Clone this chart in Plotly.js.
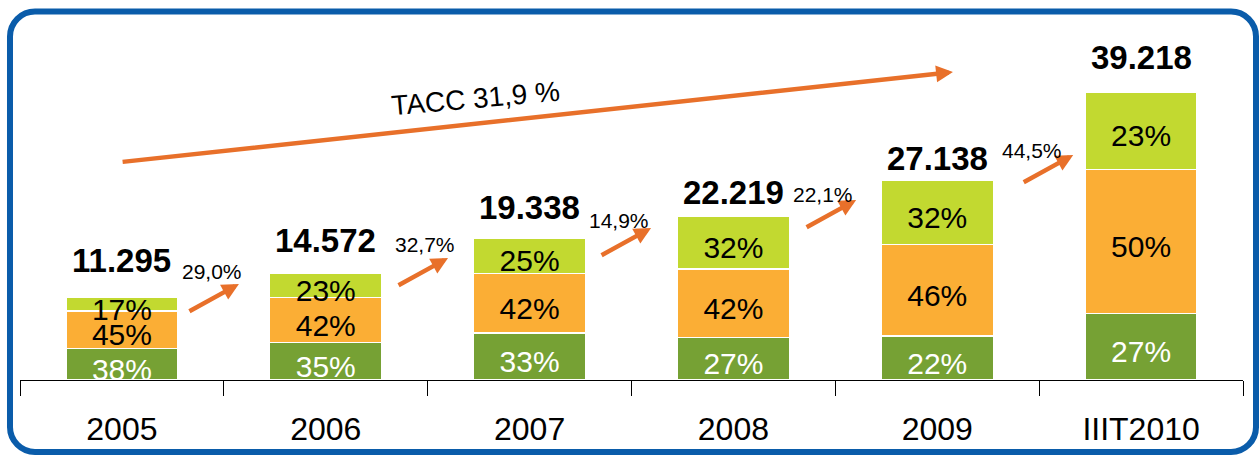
<!DOCTYPE html>
<html>
<head>
<meta charset="utf-8">
<script src="https://cdn.plot.ly/plotly-3.0.1.min.js"></script>
<style>
  html, body { margin: 0; padding: 0; background: #fff; }
  #chart { width: 1259px; height: 455px; }
</style>
</head>
<body>
<div id="chart"></div>
<script>
// categories and values
var years = ['2005', '2006', '2007', '2008', '2009', 'IIIT2010'];
var totals = [11295, 14572, 19338, 22219, 27138, 39218];
var totalText = ['11.295', '14.572', '19.338', '22.219', '27.138', '39.218'];

// segment shares (as drawn) and the labels printed on them
var greenShare = [38, 35, 33, 26, 22, 23];
var orangeShare = [45, 42, 42, 42, 46, 50];
var limeShare = [17, 23, 25, 32, 32, 27];
var greenText = ['38%', '35%', '33%', '27%', '22%', '27%'];
var orangeText = ['45%', '42%', '42%', '42%', '46%', '50%'];
var limeText = ['17%', '23%', '25%', '32%', '32%', '23%'];

// year on year growth
var growthText = ['29,0%', '32,7%', '14,9%', '22,1%', '44,5%'];
var cagrText = 'TACC 31,9 %';

// annotation placement (data units)
var growthX = [0.442, 1.487, 2.439, 3.440, 4.465];
var growthY = [14828, 18501, 21766, 25303, 31288];
var arrowX = [0.574, 1.600, 2.596, 3.602, 4.667];
var arrowY = [13060, 16596, 20677, 24486, 30608];
var totalGap = [24, 20, 18, 12, 10, 22];

var YMAX = 48980;
var PLOT_H = 360;
var unitsPerPx = YMAX / PLOT_H;

var colGreen = '#76A134';
var colOrange = '#FBAE35';
var colLime = '#C2D930';
var colArrow = '#E8702A';
var colBorder = '#0A5CAA';

function part(share, i) {
    var sum = greenShare[i] + orangeShare[i] + limeShare[i];
    return totals[i] * share[i] / sum;
}

var gVals = [], oVals = [], lVals = [];
for (var i = 0; i < years.length; i++) {
    gVals.push(part(greenShare, i));
    oVals.push(part(orangeShare, i));
    lVals.push(part(limeShare, i));
}

function barTrace(vals, color) {
    return {
        type: 'bar',
        x: years,
        y: vals,
        marker: { color: color, line: { color: '#ffffff', width: 1.5 } },
        hoverinfo: 'skip'
    };
}

// label y: centre of each segment, dropped a little like the original
var drop = 8 * unitsPerPx;
function labelTrace(bases, vals, texts, color) {
    var ys = [];
    for (var i = 0; i < vals.length; i++) {
        ys.push(bases[i] + vals[i] / 2 - drop);
    }
    return {
        type: 'scatter',
        mode: 'text',
        x: years,
        y: ys,
        text: texts,
        textposition: 'middle center',
        textfont: { size: 30, color: color },
        cliponaxis: true,
        hoverinfo: 'skip'
    };
}

var zeros = years.map(function () { return 0; });
var oBase = gVals.slice();
var lBase = gVals.map(function (v, i) { return v + oVals[i]; });

var data = [
    barTrace(gVals, colGreen),
    barTrace(oVals, colOrange),
    barTrace(lVals, colLime),
    labelTrace(zeros, gVals, greenText, '#ffffff'),
    labelTrace(oBase, oVals, orangeText, '#000000'),
    labelTrace(lBase, lVals, limeText, '#000000')
];

var annotations = [];
// totals above bars
for (var i = 0; i < years.length; i++) {
    annotations.push({
        x: i, y: totals[i], xref: 'x', yref: 'y',
        text: '<b>' + totalText[i] + '</b>',
        showarrow: false, yanchor: 'bottom',
        yshift: totalGap[i] - 8,
        font: { size: 33, color: '#000' }
    });
}
// growth arrows and labels
for (var j = 0; j < growthText.length; j++) {
    annotations.push({
        x: arrowX[j], y: arrowY[j], xref: 'x', yref: 'y',
        text: '', showarrow: true, ax: -51, ay: 28,
        arrowhead: 2, arrowsize: 0.75, arrowwidth: 4.5,
        arrowcolor: colArrow, standoff: 0
    });
    annotations.push({
        x: growthX[j], y: growthY[j], xref: 'x', yref: 'y',
        text: growthText[j], showarrow: false,
        font: { size: 21, color: '#000' }
    });
}
// long CAGR arrow
annotations.push({
    x: 4.077, y: 41899, xref: 'x', yref: 'y',
    ax: -0.004, ay: 29656, axref: 'x', ayref: 'y',
    text: '', showarrow: true, arrowhead: 2, arrowsize: 0.75,
    arrowwidth: 4.5, arrowcolor: colArrow, standoff: 0
});
annotations.push({
    x: 1.735, y: 38362, xref: 'x', yref: 'y',
    text: cagrText, showarrow: false, textangle: -5,
    font: { size: 28, color: '#000' }
});

// rounded frame, pixel coordinates turned into paper fractions
function px(p) { return (p - 20) / 1223; }
function py(p) { return (380 - p) / PLOT_H; }
function roundedRect(L, T, R, B, r) {
    var k = 0.5523 * r;
    var pts = [
        'M', [L + r, T], 'L', [R - r, T],
        'C', [R - r + k, T], [R, T + r - k], [R, T + r],
        'L', [R, B - r],
        'C', [R, B - r + k], [R - r + k, B], [R - r, B],
        'L', [L + r, B],
        'C', [L + r - k, B], [L, B - r + k], [L, B - r],
        'L', [L, T + r],
        'C', [L, T + r - k], [L + r - k, T], [L + r, T]
    ];
    var s = '';
    pts.forEach(function (p) {
        if (typeof p === 'string') s += p + ' ';
        else s += px(p[0]).toFixed(5) + ',' + py(p[1]).toFixed(5) + ' ';
    });
    return s + 'Z';
}

var layout = {
    width: 1259,
    height: 455,
    margin: { l: 20, r: 16, t: 20, b: 75 },
    paper_bgcolor: '#ffffff',
    plot_bgcolor: '#ffffff',
    barmode: 'stack',
    bargap: 0.45,
    showlegend: false,
    font: { family: 'Arial, "Liberation Sans", sans-serif', color: '#000' },
    xaxis: {
        type: 'category',
        range: [-0.5, 5.5],
        tickson: 'boundaries',
        ticks: 'outside',
        ticklen: 15,
        tickwidth: 1,
        tickcolor: '#000',
        showline: true,
        linecolor: '#000',
        linewidth: 1,
        showgrid: false,
        zeroline: false,
        ticklabelstandoff: 21,
        tickfont: { size: 32, color: '#000' },
        fixedrange: true
    },
    yaxis: {
        range: [0, YMAX],
        visible: false,
        fixedrange: true
    },
    annotations: annotations,
    shapes: [{
        type: 'path',
        xref: 'paper', yref: 'paper',
        path: roundedRect(10, 11.5, 1256, 452, 25),
        line: { color: colBorder, width: 6 }
    }]
};

Plotly.newPlot('chart', data, layout, { displayModeBar: false, staticPlot: true });
</script>
</body>
</html>
